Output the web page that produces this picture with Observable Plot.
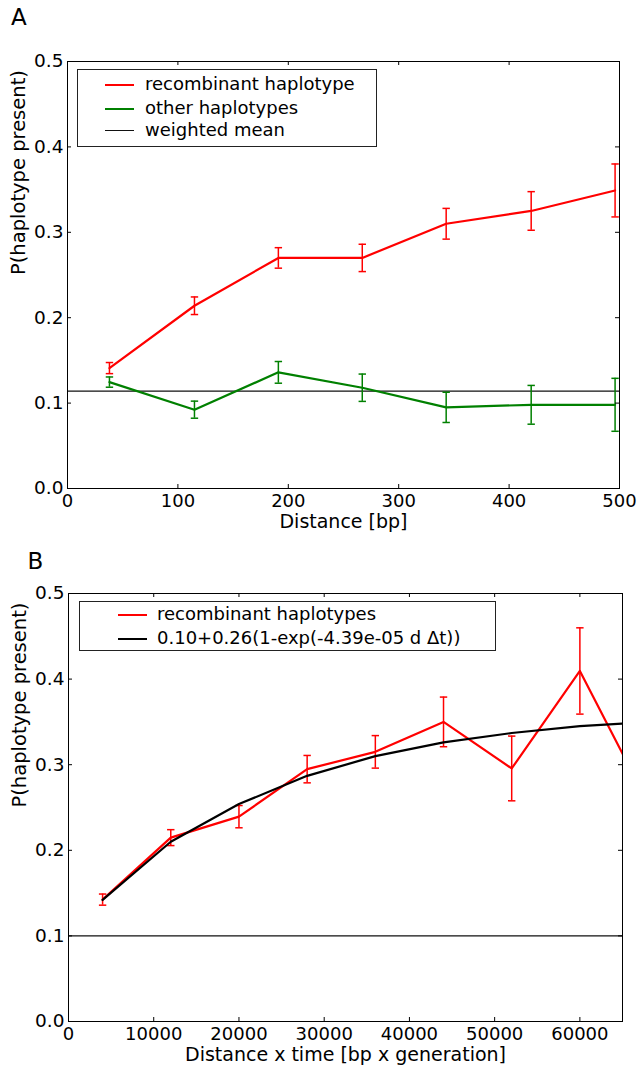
<!DOCTYPE html>
<html>
<head>
<meta charset="utf-8">
<script src="https://cdn.jsdelivr.net/npm/d3@7"></script>
<script src="https://cdn.jsdelivr.net/npm/@observablehq/plot@0.6"></script>
<style>
  html, body { margin: 0; padding: 0; background: white; font-family: "DejaVu Sans", sans-serif; }
  .panel { position: relative; width: 640px; }
  .panel svg { display: block; }
  #A { height: 537px; }
  #B { height: 532px; }
  .letter { position: absolute; font-size: 23px; line-height: 23px; color: black; }
  .legend { position: absolute; border: 1px solid #222; background: white; box-sizing: border-box; }
  .sw { position: absolute; }
  .lt { position: absolute; font-size: 18px; line-height: 22px; white-space: nowrap; color: black; }
</style>
</head>
<body>
<div id="A" class="panel"></div>
<div id="B" class="panel"></div>
<script>
// ---------- Panel A data ----------
const distA = [38, 115, 191, 267, 343, 420, 496];
const recA = [0.141, 0.214, 0.270, 0.270, 0.310, 0.325, 0.349];
const recAErr = [0.0065, 0.0103, 0.012, 0.016, 0.018, 0.0226, 0.031];
const otherA = [0.1246, 0.0923, 0.136, 0.118, 0.095, 0.098, 0.098];
const otherAErr = [0.006, 0.010, 0.0127, 0.016, 0.0177, 0.0227, 0.031];
const weightedMean = 0.114;
const xTicksA = [0, 100, 200, 300, 400, 500];

// ---------- Panel B data ----------
const distB = [4000, 12000, 20000, 28000, 36000, 44000, 52000, 60000, 68000];
const recB = [0.1424, 0.2148, 0.2393, 0.2948, 0.315, 0.350, 0.2956, 0.4095, 0.255];
const recBErr = [0.0065, 0.0093, 0.013, 0.016, 0.019, 0.029, 0.0378, 0.0504, 0.06];
const fitB = [0.142, 0.210, 0.254, 0.287, 0.310, 0.326, 0.337, 0.345, 0.350];
const baselineB = 0.1;
const xTicksB = [0, 10000, 20000, 30000, 40000, 50000, 60000];

const yTicks = [0, 0.1, 0.2, 0.3, 0.4, 0.5];
const yLabel = "P(haplotype present)";

const rows = (xs, ys, es) => xs.map((x, i) => ({x, y: ys[i], lo: ys[i] - es[i], hi: ys[i] + es[i]}));
const cap = {draw(ctx, size) { const r = Math.sqrt(size / Math.PI); ctx.moveTo(-r, 0); ctx.lineTo(r, 0); }};

function errMarks(data, color, clip) {
  return [
    Plot.ruleX(data, {x: "x", y1: "lo", y2: "hi", stroke: color, strokeWidth: 1.5, clip}),
    Plot.dot(data, {x: "x", y: "lo", symbol: cap, r: 3.7, stroke: color, strokeWidth: 1.5, fill: "none", clip}),
    Plot.dot(data, {x: "x", y: "hi", symbol: cap, r: 3.7, stroke: color, strokeWidth: 1.5, fill: "none", clip})
  ];
}

function frameMarks(xTicks, fw, fh, xLabel, xFmt, pad, titleDy) {
  return [
    Plot.axisX(xTicks, {tickSize: 0, tickPadding: pad, tickFormat: xFmt, label: null, fontSize: 18}),
    Plot.axisY(yTicks, {tickSize: 0, tickPadding: 4, tickFormat: d3.format(".1f"), label: null, fontSize: 18.5}),
    Plot.tickX(xTicks, {x: d => d, insetTop: fh - 4, stroke: "black"}),
    Plot.tickX(xTicks, {x: d => d, insetBottom: fh - 4, stroke: "black"}),
    Plot.tickY(yTicks, {y: d => d, insetRight: fw - 4, stroke: "black"}),
    Plot.tickY(yTicks, {y: d => d, insetLeft: fw - 4, stroke: "black"}),
    Plot.frame({stroke: "black", strokeWidth: 1}),
    Plot.text([yLabel], {frameAnchor: "left", rotate: -90, dx: -48.5, fontSize: 19.5}),
    Plot.text([xLabel], {frameAnchor: "bottom", dy: titleDy, fontSize: 19})
  ];
}

const style = {fontFamily: "DejaVu Sans", fontSize: "18px", color: "black", background: "white", overflow: "visible", display: "block"};

// ---------- Panel A ----------
{
  const mL = 67, mR = 21, mT = 61, mB = 49, H = 537;
  const fw = 640 - mL - mR, fh = H - mT - mB;
  const red = rows(distA, recA, recAErr);
  const green = rows(distA, otherA, otherAErr);
  const chart = Plot.plot({
    width: 640, height: H, marginLeft: mL, marginRight: mR, marginTop: mT, marginBottom: mB,
    style,
    x: {domain: [0, 500]},
    y: {domain: [0, 0.5]},
    marks: [
      Plot.ruleY([weightedMean], {stroke: "#111", strokeWidth: 1.3}),
      Plot.line(red, {x: "x", y: "y", stroke: "#ff0000", strokeWidth: 2.2}),
      ...errMarks(red, "#ff0000", false),
      Plot.line(green, {x: "x", y: "y", stroke: "#008000", strokeWidth: 2.2}),
      ...errMarks(green, "#008000", false),
      ...frameMarks(xTicksA, fw, fh, "Distance [bp]", d => String(d), 5.5, 39)
    ]
  });
  const el = document.getElementById("A");
  el.appendChild(chart);
  el.insertAdjacentHTML("beforeend", `
    <div class="letter" style="left:11px;top:6px">A</div>
    <div class="legend" style="left:77px;top:69px;width:300px;height:78px">
      <div class="sw" style="left:27px;top:13.5px;width:29px;height:2px;background:#ff0000"></div>
      <div class="lt" style="left:67px;top:3px">recombinant haplotype</div>
      <div class="sw" style="left:27px;top:37.5px;width:29px;height:2px;background:#008000"></div>
      <div class="lt" style="left:67px;top:27px">other haplotypes</div>
      <div class="sw" style="left:27px;top:60px;width:29px;height:1.3px;background:#111"></div>
      <div class="lt" style="left:67px;top:49px">weighted mean</div>
    </div>`);
}

// ---------- Panel B ----------
{
  const mL = 68, mR = 18, mT = 56, mB = 48, H = 532;
  const fw = 640 - mL - mR, fh = H - mT - mB;
  const red = rows(distB, recB, recBErr);
  const fit = distB.map((x, i) => ({x, y: fitB[i]}));
  const chart = Plot.plot({
    width: 640, height: H, marginLeft: mL, marginRight: mR, marginTop: mT, marginBottom: mB,
    style,
    x: {domain: [0, 65000]},
    y: {domain: [0, 0.5]},
    marks: [
      Plot.ruleY([baselineB], {stroke: "#111", strokeWidth: 1.3}),
      Plot.line(red, {x: "x", y: "y", stroke: "#ff0000", strokeWidth: 2.2, clip: true}),
      ...errMarks(red, "#ff0000", true),
      Plot.line(fit, {x: "x", y: "y", stroke: "black", strokeWidth: 2.2, clip: true}),
      ...frameMarks(xTicksB, fw, fh, "Distance x time [bp x generation]", d => String(d), 5.5, 39.5)
    ]
  });
  const el = document.getElementById("B");
  el.appendChild(chart);
  el.insertAdjacentHTML("beforeend", `
    <div class="letter" style="left:27.5px;top:12.5px">B</div>
    <div class="legend" style="left:79px;top:64px;width:417px;height:50px">
      <div class="sw" style="left:38px;top:11.5px;width:29px;height:2px;background:#ff0000"></div>
      <div class="lt" style="left:77px;top:1px">recombinant haplotypes</div>
      <div class="sw" style="left:38px;top:36px;width:29px;height:2px;background:black"></div>
      <div class="lt" style="left:77px;top:25px">0.10+0.26(1-exp(-4.39e-05 d &Delta;t))</div>
    </div>`);
}
</script>
</body>
</html>
